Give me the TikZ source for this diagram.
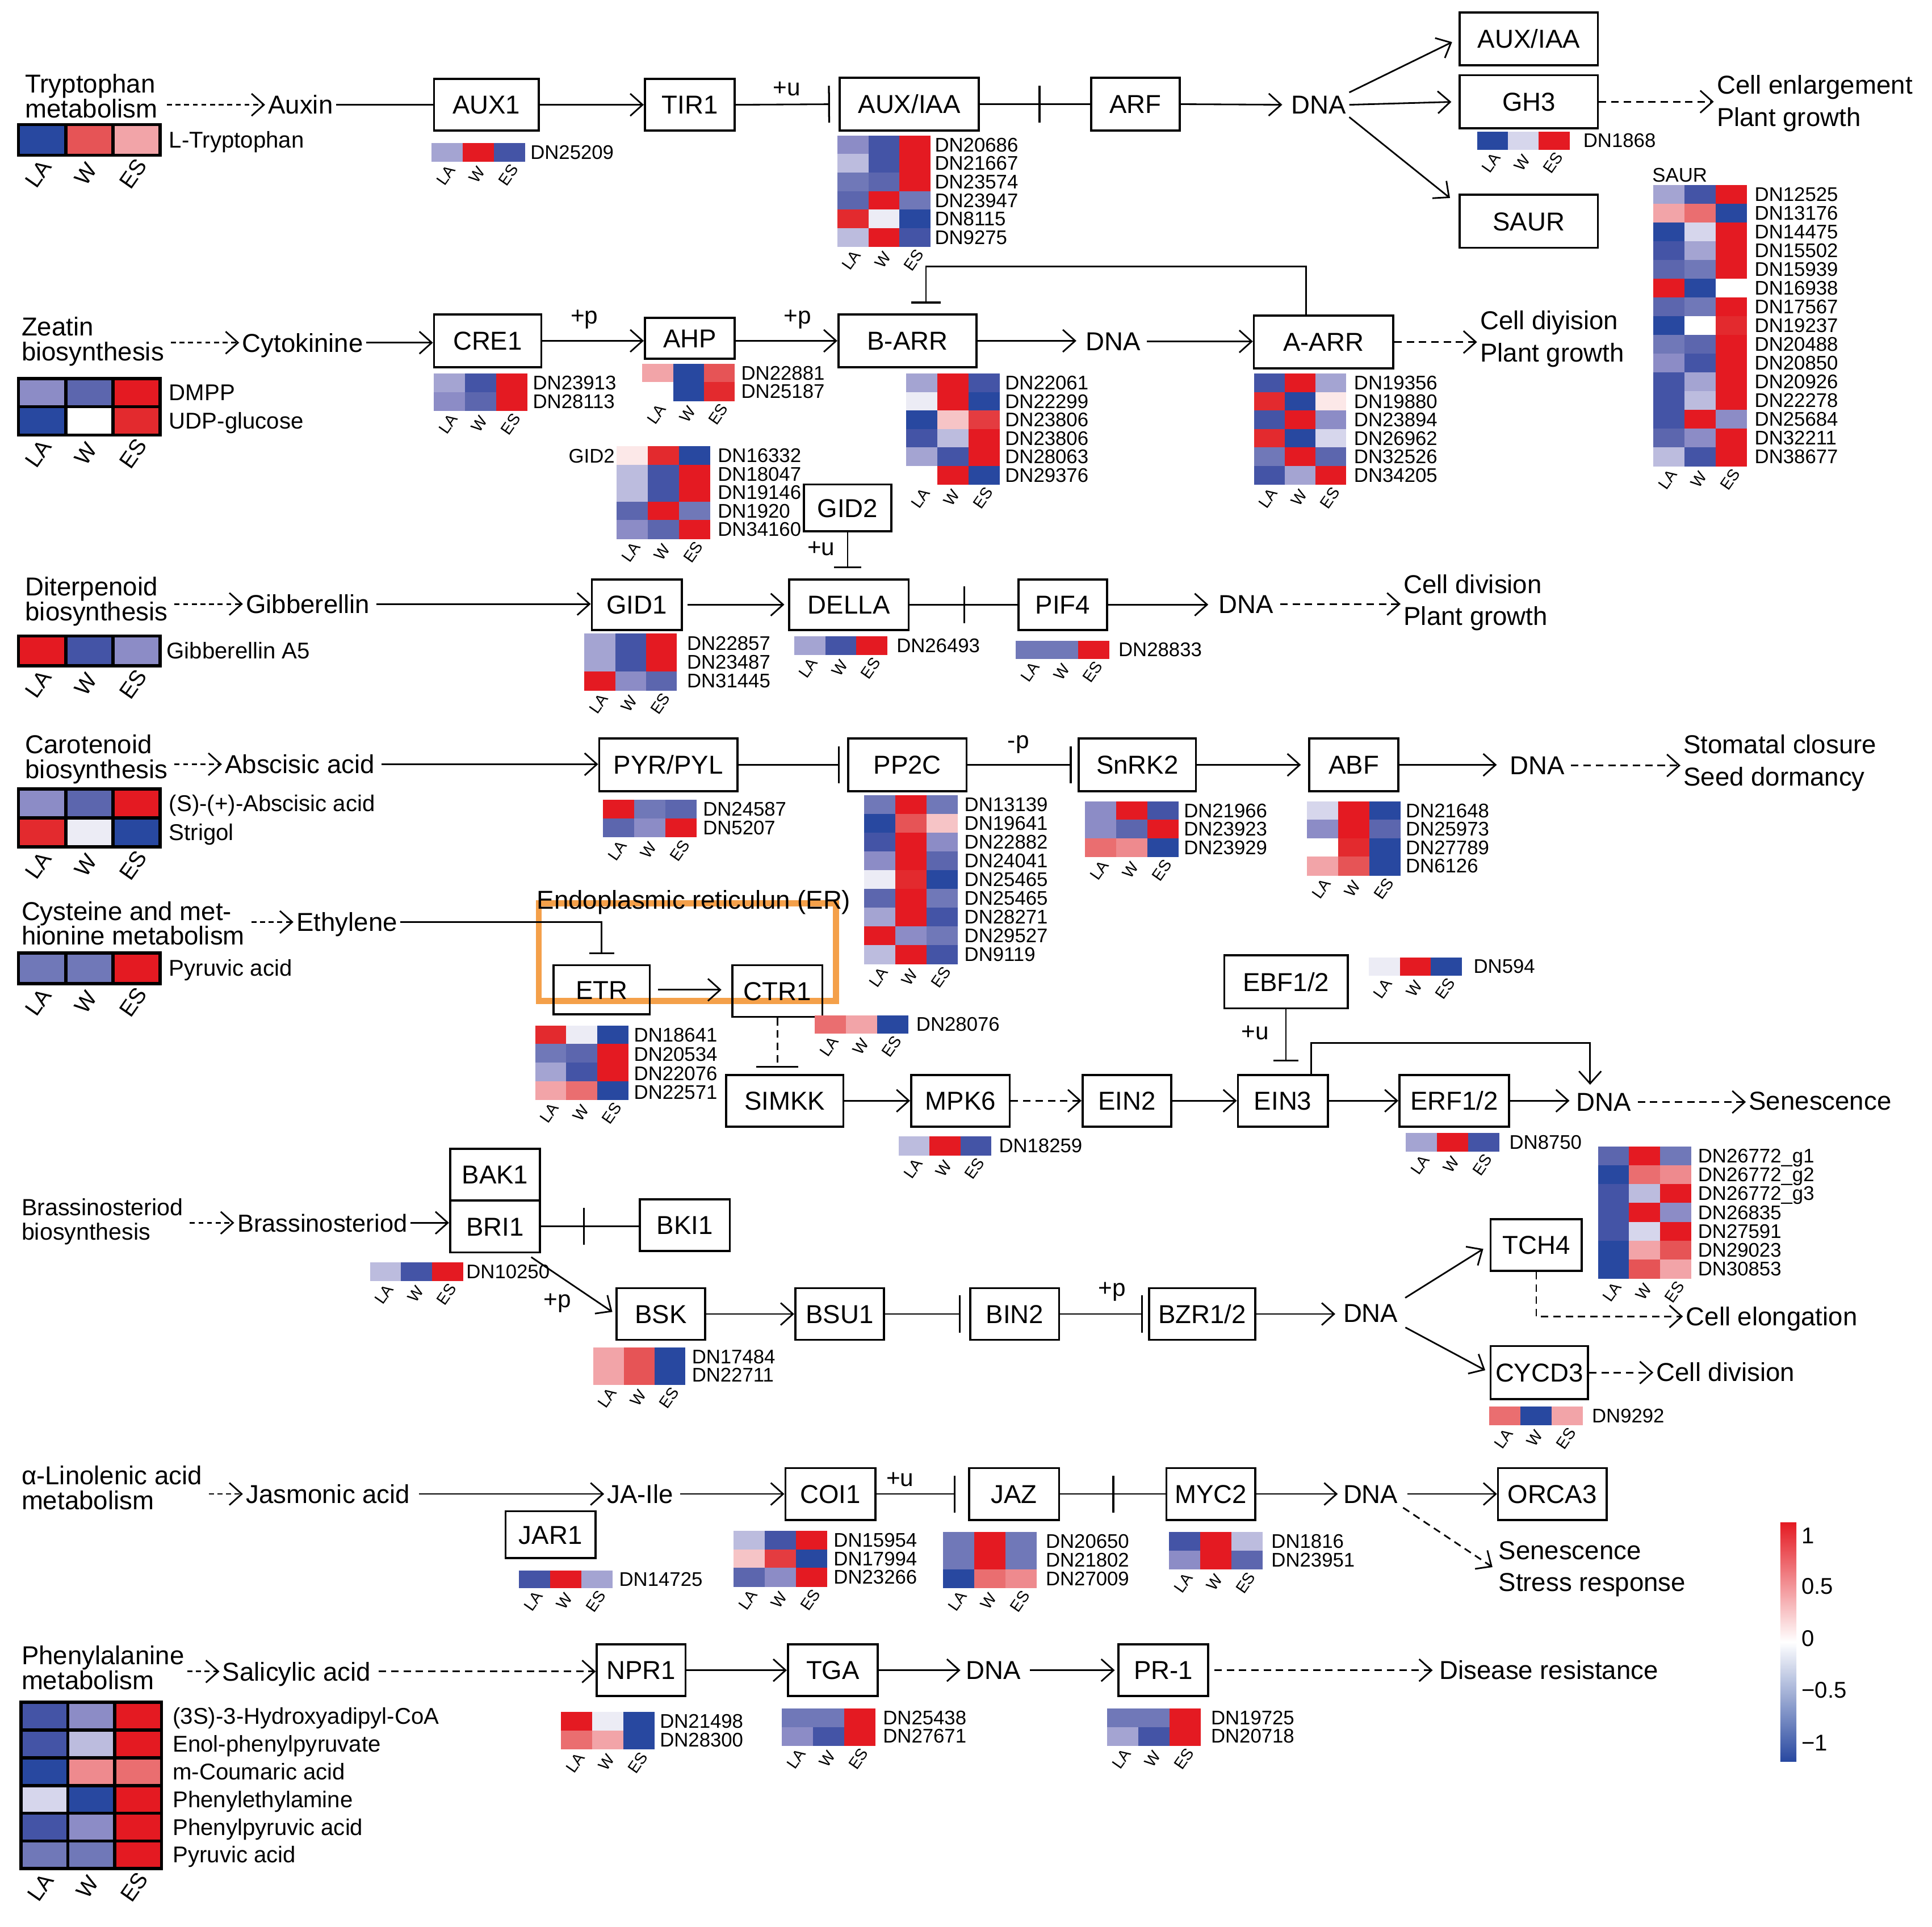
\documentclass[tikz,border=0pt]{standalone}
\usepackage{fontspec}
\setmainfont{Liberation Sans}
\usetikzlibrary{arrows.meta,calc,decorations.markings}
\definecolor{B1}{HTML}{2848A0}
\definecolor{B2}{HTML}{4454A6}
\definecolor{B3}{HTML}{5C66AE}
\definecolor{B4}{HTML}{7078B8}
\definecolor{B5}{HTML}{8C8CC6}
\definecolor{B6}{HTML}{A4A4D2}
\definecolor{B7}{HTML}{BCBCDE}
\definecolor{B8}{HTML}{D6D6EC}
\definecolor{B9}{HTML}{ECECF5}
\definecolor{R9}{HTML}{FCE8E8}
\definecolor{R8}{HTML}{F6C4C6}
\definecolor{R7}{HTML}{F2A4A8}
\definecolor{R6}{HTML}{EE8A8E}
\definecolor{R5}{HTML}{EA6E70}
\definecolor{R4}{HTML}{E65456}
\definecolor{R3}{HTML}{E43C40}
\definecolor{R2}{HTML}{E32A2E}
\definecolor{R1}{HTML}{E41A22}
\definecolor{ERo}{HTML}{F4A04A}
\newcommand\fmain{\fontsize{21}{20}\selectfont}
\newcommand\fout{\fontsize{21}{26}\selectfont}
\newcommand\fdn{\fontsize{16}{15}\selectfont}
\newcommand\fmet{\fontsize{18.5}{18}\selectfont}
\newcommand\fsgn{\fontsize{19.5}{19}\selectfont}
\newcommand\flwe{\fontsize{13}{13}\selectfont}
\newcommand\flwm{\fontsize{18}{18}\selectfont}
\tikzset{
  box/.style={draw, line width=1.7pt, inner sep=0pt, font=\fmain, text height=15pt, text depth=0pt},
  txt/.style={inner sep=1pt, outer sep=1.5pt, font=\fmain, anchor=west, text height=15pt, text depth=0pt},
  mtxt/.style={inner sep=1pt, outer sep=1.5pt, font=\fmain, anchor=west, align=left},
  otxt/.style={inner sep=1pt, outer sep=1.5pt, font=\fout, anchor=west, align=left},
  lbl/.style={inner sep=0pt, font=\fmet},
  sgn/.style={inner sep=0pt, font=\fsgn},
  dnl/.style={inner sep=0pt, font=\fdn, anchor=west, text height=11.2pt, text depth=0pt},
  mtl/.style={inner sep=0pt, font=\fmet, anchor=west, text height=13pt, text depth=0pt},
  lwe/.style={inner sep=0pt, font=\flwe, rotate=55},
  lwm/.style={inner sep=0pt, font=\flwm, rotate=55},
  ln/.style={line width=1.3pt},
  arr/.style={ln, -{Straight Barb[length=10pt,width=18pt,line width=1.3pt]}},
  dsh/.style={dash pattern=on 6pt off 4pt},
  dts/.style={dash pattern=on 4pt off 3pt},
  inh/.style={ln, -{Bar[width=#1,line width=1.5pt]}},
  inh/.default=30pt,
  midbar/.style={decoration={markings, mark=at position #1 with {\draw[line width=1.5pt] (0,-15pt) -- (0,15pt);}}, postaction={decorate}},
}
\newcommand\bx[6]{\node[box, minimum width={(#4)-(#2)}, minimum height={(#5)-(#3)}] (#1) at ({((#2)+(#4))/2},{((#3)+(#5))/2}) {#6};}
% name, x, y, cell width, row height, rows count, rows
\newcommand\hmap[7]{%
  \foreach \cA/\cB/\cC [count=\rr from 0] in {#7} {
    \fill[\cA] ({#2},{#3+\rr*#5}) rectangle ++({#4+0.4},{#5+0.4});
    \fill[\cB] ({#2+#4},{#3+\rr*#5}) rectangle ++({#4+0.4},{#5+0.4});
    \fill[\cC] ({#2+2*#4},{#3+\rr*#5}) rectangle ++({#4},{#5+0.4});
  }
  \node[lwe] (#1-la) at ({#2+0.5*#4-1},{#3+#6*#5+11}) {LA};
  \node[lwe] (#1-w) at ({#2+1.5*#4-1},{#3+#6*#5+11}) {W};
  \node[lwe] (#1-es) at ({#2+2.5*#4-1},{#3+#6*#5+11}) {ES};
}
\newcommand\mhmap[7]{%
  \foreach \cA/\cB/\cC [count=\rr from 0] in {#7} {
    \filldraw[fill=\cA, draw=black, line width=2.6pt] ({#2},{#3+\rr*#5}) rectangle ++(#4,#5);
    \filldraw[fill=\cB, draw=black, line width=2.6pt] ({#2+#4},{#3+\rr*#5}) rectangle ++(#4,#5);
    \filldraw[fill=\cC, draw=black, line width=2.6pt] ({#2+2*#4},{#3+\rr*#5}) rectangle ++(#4,#5);
  }
  \node[lwm] (#1-la) at ({#2+0.5*#4-3},{#3+#6*#5+15}) {LA};
  \node[lwm] (#1-w) at ({#2+1.5*#4-3},{#3+#6*#5+15}) {W};
  \node[lwm] (#1-es) at ({#2+2.5*#4-3},{#3+#6*#5+15}) {ES};
}
% name, x, y0, row height, style, list
\newcommand\hlab[6]{%
  \foreach \hmtxt [count=\nn] in {#6} {\node[#5] (#1-\nn) at ({#2},{#3+(\nn-0.5)*#4}) {\hmtxt};}}
\begin{document}
\begin{tikzpicture}[x=1pt,y=-1pt]
\path[fill=white] (0,0) rectangle (1567,1563);
\useasboundingbox (0,0) rectangle (1567,1563);

% ================= ROW 1 : Auxin
\node[mtxt] (tryp) at (18,78) {Tryptophan\\metabolism};
\node[txt] (auxin) at (215,85) {Auxin};
\bx{aux1}{352}{64}{437}{106}{AUX1}
\bx{tir1}{523}{64}{596}{106}{TIR1}
\bx{auxiaa}{681}{63}{794}{106}{AUX/IAA}
\bx{arf}{885}{63}{957}{106}{ARF}
\node[txt] (dna1) at (1045,85) {DNA};
\bx{auxiaab}{1184}{10}{1296}{53}{AUX/IAA}
\bx{gh3}{1184}{61}{1296}{104}{GH3}
\bx{saur}{1184}{158}{1296}{201}{SAUR}
\node[otxt] (cellenl) at (1390,84) {Cell enlargement\\Plant growth};

\draw[arr,dts,shorten <=5pt] (tryp.east |- auxin.west) -- (auxin.west);
\draw[ln] (auxin.east) -- (aux1.west);
\draw[arr] (aux1.east) -- (tir1.west);
\draw[inh, shorten >=7pt] (tir1.east) -- (auxiaa.west);
\node[sgn] (u1) at (638,72) {+u};
\draw[ln, midbar=0.54] (auxiaa.east) -- (arf.west);
\draw[arr, shorten >=5pt] (arf.east) -- (dna1.west);
\draw[arr, shorten >=6pt] (dna1.north east) -- (auxiaab.west);
\draw[arr, shorten >=6pt] (dna1.east) -- (gh3.west);
\draw[arr, shorten >=4pt] (dna1.south east) -- ($(saur.north west)+(-4,6)$);
\draw[arr, dsh] (gh3.east) -- (cellenl.west |- gh3.east);

\mhmap{htryp}{15}{101}{38.3}{25}{1}{B1/R4/R7}
\hlab{htryp}{137}{101}{25}{mtl}{L-Tryptophan}
\hmap{haux1}{350}{116}{25.3}{15}{1}{B6/R1/B2}
\hlab{haux1}{430}{116}{15}{dnl}{DN25209}
\hmap{hauxiaa}{679}{110}{25.3}{15}{6}{B5/B2/R1,B7/B2/R1,B4/B3/R1,B3/R1/B4,R2/B9/B1,B7/R1/B2}
\hlab{hauxiaa}{758}{110}{15}{dnl}{DN20686,DN21667,DN23574,DN23947,DN8115,DN9275}
\hmap{hgh3}{1198}{107}{25}{14}{1}{B1/B8/R1}
\hlab{hgh3}{1284}{107}{14}{dnl}{DN1868}
\node[dnl] (saurlab) at (1340,142) {SAUR};
\hmap{hsaur}{1341}{150}{25.3}{15.2}{15}{B6/B2/R1,R7/R5/B1,B1/B8/R1,B2/B6/R1,B3/B4/R1,R1/B1/white,B3/B4/R1,B1/white/R2,B4/B3/R1,B5/B2/R1,B2/B6/R1,B2/B7/R1,B2/R1/B5,B3/B5/R1,B7/B2/R1}
\hlab{hsaur}{1423}{150}{15.2}{dnl}{DN12525,DN13176,DN14475,DN15502,DN15939,DN16938,DN17567,DN19237,DN20488,DN20850,DN20926,DN22278,DN25684,DN32211,DN38677}

% ================= ROW 2 : Cytokinin
\node[mtxt] (zeat) at (15,277) {Zeatin\\biosynthesis};
\node[txt] (cytok) at (194,278) {Cytokinine};
\bx{cre1}{352}{255}{439}{298}{CRE1}
\bx{ahp}{523}{258}{596}{291}{AHP}
\bx{barr}{680}{255}{792}{298}{B-ARR}
\node[txt] (dna2) at (878,277) {DNA};
\bx{aarr}{1017}{256}{1130}{299}{A-ARR}
\node[otxt] (celldiy) at (1198,275) {Cell diyision\\Plant growth};

\draw[arr,dts,shorten <=3pt] (zeat.east |- cytok.west) -- (cytok.west);
\draw[arr] (cytok.east) -- (cre1.west |- cytok.east);
\draw[arr] (cre1.east) -- (ahp.west |- cre1.east);
\node[sgn] (p1) at (474,259) {+p};
\draw[arr] (ahp.east |- barr.west) -- (barr.west);
\node[sgn] (p2) at (647,259) {+p};
\draw[arr, shorten >=5pt] (barr.east) -- (dna2.west |- barr.east);
\draw[arr, shorten <=3pt] (dna2.east) -- (aarr.west |- dna2.east);
\draw[arr, dsh] (aarr.east) -- (celldiy.west |- aarr.east);
\draw[inh=24pt, shorten >=8pt] ($(aarr.north)+(-14,0)$) |- ($(barr.north)+(15,-38)$) -- ($(barr.north)+(15,0)$);

\mhmap{hzeat}{15}{307}{38.3}{23}{2}{B5/B3/R1,B1/white/R2}
\hlab{hzeat}{137}{307}{23}{mtl}{DMPP,UDP-glucose}
\hmap{hcre1}{352}{303}{25.3}{15}{2}{B6/B2/R1,B5/B3/R1}
\hlab{hcre1}{432}{303}{15}{dnl}{DN23913,DN28113}
\hmap{hahp}{521}{295}{25}{15}{2}{R7/B1/R4,white/B1/R2}
\hlab{hahp}{601}{295}{15}{dnl}{DN22881,DN25187}
\hmap{hbarr}{735}{303}{25.3}{15}{6}{B6/R1/B2,B9/R1/B1,B1/R8/R3,B2/B7/R1,B6/B2/R1,white/R1/B1}
\hlab{hbarr}{815}{303}{15}{dnl}{DN22061,DN22299,DN23806,DN23806,DN28063,DN29376}
\hmap{haarr}{1017}{303}{25}{15}{6}{B2/R1/B6,R2/B1/R9,B2/R1/B5,R2/B1/B8,B4/R1/B3,B2/B6/R1}
\hlab{haarr}{1098}{303}{15}{dnl}{DN19356,DN19880,DN23894,DN26962,DN32526,DN34205}
\node[dnl] (gid2lab) at (461,370) {GID2};
\hmap{hgid2}{500}{362}{25.3}{15}{5}{R9/R2/B1,B7/B2/R1,B7/B2/R1,B3/R1/B4,B5/B3/R1}
\hlab{hgid2}{582}{362}{15}{dnl}{DN16332,DN18047,DN19146,DN1920,DN34160}
\bx{gid2}{652}{393}{723}{431}{GID2}

% ================= ROW 3 : Gibberellin
\node[mtxt] (diterp) at (18,488) {Diterpenoid\\biosynthesis};
\node[txt] (gibb) at (197,490) {Gibberellin};
\bx{gid1}{480}{470}{553}{511}{GID1}
\bx{della}{640}{470}{737}{511}{DELLA}
\bx{pif4}{826}{470}{898}{511}{PIF4}
\node[txt] (dna3) at (986,490) {DNA};
\node[otxt] (celldiv) at (1136,489) {Cell division\\Plant growth};

\draw[arr,dts,shorten <=3pt] (diterp.east |- gibb.west) -- (gibb.west);
\draw[arr, shorten <=3pt] (gibb.east) -- (gid1.west |- gibb.east);
\draw[arr, shorten >=3pt, shorten <=4pt] (gid1.east) -- (della.west);
\draw[ln, midbar=0.506] (della.east) -- (pif4.west);
\draw[arr, shorten >=6pt] (pif4.east) -- (dna3.west |- pif4.east);
\draw[arr, dsh, shorten <=3pt] (dna3.east) -- (celldiv.west |- dna3.east);
\draw[inh=22pt, shorten >=8pt] (gid2.south) -- (gid2.south |- della.north);
\node[sgn] (u2) at (666,445) {+u};

\mhmap{hga}{15}{516}{38.3}{24}{1}{R1/B2/B5}
\hlab{hga}{135}{516}{24}{mtl}{Gibberellin A5}
\hmap{hgid1}{474}{514}{25}{15.3}{3}{B6/B2/R1,B6/B2/R1,R1/B5/B3}
\hlab{hgid1}{557}{514}{15.3}{dnl}{DN22857,DN23487,DN31445}
\hmap{hdella}{644}{516}{25.3}{15}{1}{B6/B2/R1}
\hlab{hdella}{727}{516}{15}{dnl}{DN26493}
\hmap{hpif4}{824}{520}{25.3}{14}{1}{B4/B4/R1}
\hlab{hpif4}{907}{520}{14}{dnl}{DN28833}

% ================= ROW 4 : ABA
\node[mtxt] (carot) at (18,616) {Carotenoid\\biosynthesis};
\node[txt] (aba) at (180,620) {Abscisic acid};
\bx{pyr}{486}{599}{598}{642}{PYR/PYL}
\bx{pp2c}{688}{599}{784}{642}{PP2C}
\bx{snrk2}{875}{599}{970}{642}{SnRK2}
\bx{abf}{1062}{599}{1134}{642}{ABF}
\node[txt] (dna4) at (1222,621) {DNA};
\node[otxt] (stom) at (1363,619) {Stomatal closure\\Seed dormancy};

\draw[arr,dts,shorten <=3pt] (carot.east |- aba.west) -- (aba.west);
\draw[arr, shorten <=3pt] (aba.east) -- (pyr.west |- aba.east);
\draw[inh, shorten >=6pt] (pyr.east) -- (pp2c.west);
\draw[inh, shorten >=5pt] (pp2c.east) -- (snrk2.west);
\node[sgn] (mp) at (826,604) {-p};
\draw[arr, shorten >=6pt] (snrk2.east) -- (abf.west);
\draw[arr, shorten >=8pt] (abf.east) -- (dna4.west |- abf.east);
\draw[arr, dsh, shorten <=3pt] (dna4.east) -- (stom.west |- dna4.east);

\mhmap{haba}{15}{640}{38.3}{23.5}{2}{B5/B3/R1,R2/B9/B1}
\hlab{haba}{137}{640}{23.5}{mtl}{(S)-(+)-Abscisic acid,Strigol}
\hmap{hpyr}{489}{649}{25.3}{15}{2}{R1/B4/B3,B3/B5/R1}
\hlab{hpyr}{570}{649}{15}{dnl}{DN24587,DN5207}
\hmap{hpp2c}{701}{645}{25.3}{15.2}{9}{B4/R1/B4,B1/R4/R8,B2/R1/B5,B5/R1/B3,B9/R2/B1,B3/R1/B4,B6/R1/B2,R1/B5/B4,B7/R1/B2}
\hlab{hpp2c}{782}{645}{15.2}{dnl}{DN13139,DN19641,DN22882,DN24041,DN25465,DN25465,DN28271,DN29527,DN9119}
\hmap{hsnrk2}{880}{650}{25.3}{15}{3}{B5/R1/B2,B5/B3/R1,R5/R6/B1}
\hlab{hsnrk2}{960}{650}{15}{dnl}{DN21966,DN23923,DN23929}
\hmap{habf}{1060}{650}{25.3}{15}{4}{B8/R1/B1,B5/R1/B3,white/R2/B1,R7/R4/B1}
\hlab{habf}{1140}{650}{15}{dnl}{DN21648,DN25973,DN27789,DN6126}

% ================= ROW 5 : Ethylene
\draw[ERo, line width=5pt] (437,733) rectangle (678,812);
\node[txt] (ertxt) at (433,730) {Endoplasmic reticulun (ER)};
\node[mtxt] (cyst) at (15,749) {Cysteine and met-\\hionine metabolism};
\node[txt] (ethyl) at (238,748) {Ethylene};
\bx{etr}{449}{783}{527}{823}{ETR}
\bx{ctr1}{594}{783}{667}{825}{CTR1}
\bx{simkk}{589}{872}{684}{914}{SIMKK}
\bx{mpk6}{739}{872}{819}{914}{MPK6}
\bx{ein2}{878}{872}{950}{914}{EIN2}
\bx{ein3}{1004}{872}{1077}{914}{EIN3}
\bx{ebf}{993}{775}{1093}{818}{EBF1/2}
\bx{erf}{1135}{872}{1224}{914}{ERF1/2}
\node[txt] (dna5) at (1276,894) {DNA};
\node[txt] (senes) at (1416,893) {Senescence};

\draw[arr,dts,shorten <=3pt] (cyst.east |- ethyl.west) -- (ethyl.west);
\draw[inh=20pt, shorten >=8pt] (ethyl.east) -| (etr.north);
\draw[arr, shorten <=6pt, shorten >=8pt] (etr.east) -- (ctr1.west |- etr.east);
\draw[inh=34pt, dsh, shorten >=5pt] (ctr1.south) -- (ctr1.south |- simkk.north);
\draw[arr] (simkk.east) -- (mpk6.west);
\draw[arr, dsh] (mpk6.east) -- (ein2.west);
\draw[arr] (ein2.east) -- (ein3.west);
\draw[inh=20pt, shorten >=10pt] (ebf.south) -- (ebf.south |- ein3.north);
\node[sgn] (u3) at (1018,838) {+u};
\draw[arr] (ein3.east) -- (erf.west);
\draw[arr, shorten >=3pt] (erf.east) -- (dna5.west |- erf.east);
\draw[arr, shorten >=4pt] ($(ein3.north)+(23,0)$) |- ($(dna5.north)+(-11,-38)$) -- ($(dna5.north)+(-11,0)$);
\draw[arr, dsh, shorten <=3pt] (dna5.east) -- (senes.west |- dna5.east);

\mhmap{hpyrv}{15}{773}{38.3}{25}{1}{B4/B4/R1}
\hlab{hpyrv}{137}{773}{25}{mtl}{Pyruvic acid}
\hmap{hetr}{434}{832}{25.3}{15}{4}{R2/B9/B1,B4/B3/R1,B6/B2/R1,R7/R5/B1}
\hlab{hetr}{514}{832}{15.5}{dnl}{DN18641,DN20534,DN22076,DN22571}
\hmap{hctr1}{661}{824}{25.3}{14}{1}{R5/R7/B1}
\hlab{hctr1}{743}{824}{14}{dnl}{DN28076}
\hmap{hebf}{1110}{777}{25.3}{14}{1}{B9/R1/B1}
\hlab{hebf}{1195}{777}{14}{dnl}{DN594}
\hmap{hmpk6}{729}{922}{25}{15}{1}{B7/R1/B2}
\hlab{hmpk6}{810}{922}{15}{dnl}{DN18259}
\hmap{herf}{1140}{919}{25.3}{15}{1}{B6/R1/B2}
\hlab{herf}{1224}{919}{15}{dnl}{DN8750}
\hmap{hbig}{1296}{930}{25.3}{15.3}{7}{B3/R1/B4,B1/R5/R6,B2/B7/R1,B2/R1/B5,B2/B8/R1,B1/R7/R4,B1/R4/R7}
\hlab{hbig}{1377}{930}{15.3}{dnl}{DN26772\_g1,DN26772\_g2,DN26772\_g3,DN26835,DN27591,DN29023,DN30853}

% ================= ROW 6 : Brassinosteroid
\node[mtxt, font=\fontsize{19}{20}\selectfont] (brpath) at (15,991) {Brassinosteriod\\biosynthesis};
\node[txt, font=\fontsize{20}{20}\selectfont] (br) at (190,992) {Brassinosteriod};
\bx{bak1}{365}{932}{438}{974}{BAK1}
\bx{bri1}{365}{974}{438}{1016}{BRI1}
\bx{bki1}{519}{973}{592}{1015}{BKI1}
\bx{bsk}{500}{1045}{572}{1087}{BSK}
\bx{bsu1}{645}{1045}{717}{1087}{BSU1}
\bx{bin2}{787}{1045}{859}{1087}{BIN2}
\bx{bzr}{932}{1045}{1018}{1087}{BZR1/2}
\node[txt] (dna6) at (1087,1065) {DNA};
\bx{tch4}{1209}{989}{1283}{1031}{TCH4}
\bx{cycd3}{1209}{1092}{1288}{1135}{CYCD3}
\node[txt] (celong) at (1365,1068) {Cell elongation};
\node[txt] (celdiv3) at (1341,1113) {Cell division};

\draw[arr,dts,shorten <=3pt] (brpath.east |- br.west) -- (br.west);
\draw[arr] (br.east) -- (bri1.west |- br.east);
\draw[ln, midbar=0.44] (bri1.east) -- (bki1.west |- bri1.east);
\draw[arr, shorten >=3pt] ($(bri1.south east)+(-8,3)$) -- (bsk.west);
\node[sgn] (p3) at (452,1057) {+p};
\draw[arr] (bsk.east) -- (bsu1.west);
\draw[inh, shorten >=7pt] (bsu1.east) -- (bin2.west);
\draw[inh, shorten >=4pt] (bin2.east) -- (bzr.west);
\node[sgn] (p4) at (902,1048) {+p};
\draw[arr, shorten >=4pt] (bzr.east) -- (dna6.west |- bzr.east);
\draw[arr, shorten >=6pt, shorten <=4pt] (dna6.north east) -- (tch4.west);
\draw[arr, shorten >=4pt, shorten <=4pt] (dna6.south east) -- (cycd3.west);
\draw[arr, dsh] (tch4.south) |- (celong.west);
\draw[arr, dsh] (cycd3.east) -- (celdiv3.west |- cycd3.east);

\hmap{hbri1}{300}{1024}{25.3}{15}{1}{B7/B2/R1}
\hlab{hbri1}{378}{1024}{15}{dnl}{DN10250}
\hmap{hbsk}{481}{1093}{25}{15}{2}{R7/R4/B1,R7/R4/B1}
\hlab{hbsk}{561}{1093}{15}{dnl}{DN17484,DN22711}
\hmap{hcycd3}{1208}{1141}{25.3}{15}{1}{R5/B1/R7}
\hlab{hcycd3}{1291}{1141}{15}{dnl}{DN9292}

% ================= ROW 7 : Jasmonic acid
\node[mtxt] (linol) at (15,1207) {α-Linolenic acid\\metabolism};
\node[txt] (jasm) at (197,1212) {Jasmonic acid};
\node[txt] (jaile) at (490,1212) {JA-Ile};
\bx{jar1}{410}{1226}{483}{1264}{JAR1}
\bx{coi1}{637}{1191}{710}{1233}{COI1}
\bx{jaz}{786}{1191}{859}{1233}{JAZ}
\bx{myc2}{946}{1191}{1018}{1233}{MYC2}
\node[txt] (dna7) at (1087,1212) {DNA};
\bx{orca3}{1215}{1191}{1303}{1233}{ORCA3}
\node[otxt] (senstr) at (1213,1273) {Senescence\\Stress response};

\draw[arr,dts,shorten <=3pt] (linol.east |- jasm.west) -- (jasm.west);
\draw[arr, shorten <=5pt] (jasm.east) -- (jaile.west);
\draw[arr, shorten <=3pt] (jaile.east) -- (coi1.west);
\draw[inh, shorten >=10pt] (coi1.east) -- (jaz.west);
\node[sgn] (u4) at (730,1200) {+u};
\draw[ln, midbar=0.506] (jaz.east) -- (myc2.west);
\draw[arr, shorten >=2pt] (myc2.east) -- (dna7.west);
\draw[arr, shorten <=5pt] (dna7.east) -- (orca3.west);
\draw[arr, dsh, shorten <=2pt, shorten >=3pt] (dna7.south east) -- (senstr.west);

\hmap{hjar1}{421}{1274}{25.3}{14}{1}{B2/R1/B6}
\hlab{hjar1}{502}{1274}{14}{dnl}{DN14725}
\hmap{hcoi1}{595}{1242}{25.3}{15}{3}{B7/B2/R1,R8/R3/B1,B3/B5/R1}
\hlab{hcoi1}{676}{1242}{15}{dnl}{DN15954,DN17994,DN23266}
\hmap{hjaz}{765}{1243}{25.3}{15}{3}{B4/R1/B4,B4/R1/B4,B1/R5/R6}
\hlab{hjaz}{848}{1243}{15}{dnl}{DN20650,DN21802,DN27009}
\hmap{hmyc2}{948}{1243}{25.3}{15}{2}{B2/R1/B7,B5/R1/B3}
\hlab{hmyc2}{1031}{1243}{15}{dnl}{DN1816,DN23951}

% ================= ROW 8 : Salicylic acid
\node[mtxt] (phen) at (15,1353) {Phenylalanine\\metabolism};
\node[txt] (sal) at (178,1356) {Salicylic acid};
\bx{npr1}{484}{1334}{556}{1376}{NPR1}
\bx{tga}{639}{1334}{712}{1376}{TGA}
\node[txt] (dna8) at (781,1355) {DNA};
\bx{pr1}{907}{1334}{980}{1376}{PR-1}
\node[txt] (disres) at (1165,1355) {Disease resistance};

\draw[arr,dts] (phen.east |- sal.west) -- (sal.west);
\draw[arr, dsh, shorten <=4pt] (sal.east) -- (npr1.west |- sal.east);
\draw[arr] (npr1.east) -- (tga.west);
\draw[arr, shorten >=2pt] (tga.east) -- (dna8.west |- tga.east);
\draw[arr, shorten <=5pt, shorten >=2pt] (dna8.east) -- (pr1.west |- dna8.east);
\draw[arr, dsh, shorten <=4pt, shorten >=3pt] (pr1.east) -- (disres.west |- pr1.east);

\mhmap{hphen}{17}{1381}{38}{22.5}{6}{B2/B5/R1,B2/B7/R1,B1/R6/R5,B8/B1/R1,B2/B5/R1,B4/B4/R1}
\hlab{hphen}{140}{1381}{22.5}{mtl}{(3S)-3-Hydroxyadipyl-CoA,Enol-phenylpyruvate,m-Coumaric acid,Phenylethylamine,Phenylpyruvic acid,Pyruvic acid}
\hmap{hnpr1}{455}{1389}{25.3}{15}{2}{R1/B9/B1,R5/R7/B1}
\hlab{hnpr1}{535}{1389}{15}{dnl}{DN21498,DN28300}
\hmap{htga}{634}{1386}{25.3}{15}{2}{B4/B4/R1,B5/B2/R1}
\hlab{htga}{716}{1386}{15}{dnl}{DN25438,DN27671}
\hmap{hpr1}{898}{1386}{25.3}{15}{2}{B4/B4/R1,B6/B2/R1}
\hlab{hpr1}{982}{1386}{15}{dnl}{DN19725,DN20718}

% ================= Colour bar
\shade[top color=R1, bottom color=B1, middle color=white] (1444,1235) rectangle (1457,1429);
\node[lbl, anchor=west] (cb1) at (1461,1246) {1};
\node[lbl, anchor=west] (cb2) at (1461,1287) {0.5};
\node[lbl, anchor=west] (cb3) at (1461,1329) {0};
\node[lbl, anchor=west] (cb4) at (1461,1371) {−0.5};
\node[lbl, anchor=west] (cb5) at (1461,1414) {−1};
\end{tikzpicture}
\end{document}
